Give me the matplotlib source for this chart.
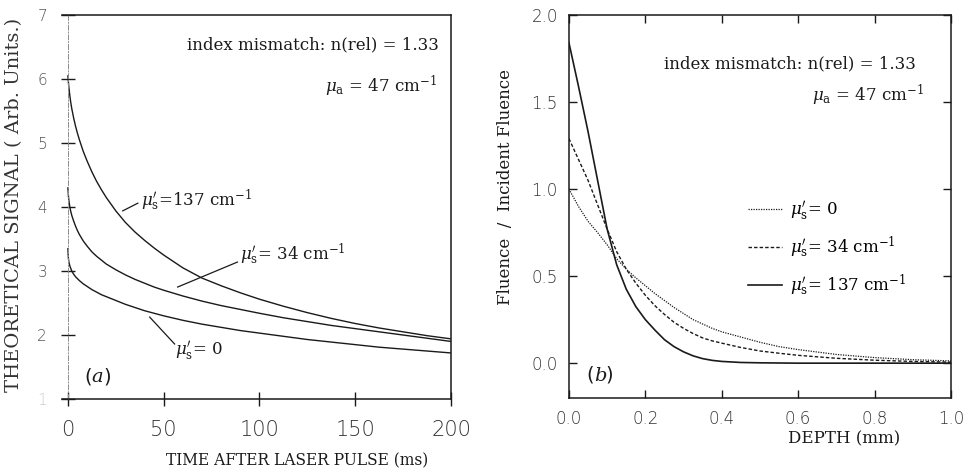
import matplotlib
matplotlib.use("Agg")
import matplotlib.pyplot as plt

plt.rcParams['mathtext.fontset'] = 'dejavuserif'

# ---------------- data: panel (a) ----------------
time_ms = [0, 0.25, 0.5, 1, 1.5, 2, 3, 4, 5, 6, 8, 10, 12.5, 15, 17.5, 20, 25, 30, 35, 40, 45, 50,
           60, 70, 80, 90, 100, 112.5, 125, 137.5, 150, 162.5, 175, 187.5, 200]
signal_137 = [6.05, 5.95, 5.87, 5.74, 5.63, 5.54, 5.39, 5.26, 5.15, 5.05, 4.87, 4.72, 4.55, 4.4, 4.27,
              4.15, 3.94, 3.76, 3.61, 3.48, 3.36, 3.25, 3.05, 2.89, 2.77, 2.66, 2.56, 2.45, 2.35, 2.26,
              2.18, 2.11, 2.05, 1.99, 1.94]
signal_34 = [4.3, 4.18, 4.1, 4.0, 3.93, 3.87, 3.78, 3.7, 3.63, 3.57, 3.47, 3.39, 3.3, 3.23, 3.17,
             3.11, 3.02, 2.94, 2.87, 2.81, 2.75, 2.7, 2.61, 2.53, 2.46, 2.4, 2.34, 2.27, 2.21, 2.15,
             2.1, 2.05, 2.0, 1.95, 1.9]
signal_0 = [3.35, 3.2, 3.14, 3.08, 3.04, 3.0, 2.95, 2.91, 2.88, 2.85, 2.8, 2.76, 2.71, 2.67, 2.63,
            2.6, 2.54, 2.48, 2.43, 2.38, 2.34, 2.3, 2.23, 2.17, 2.12, 2.07, 2.03, 1.98, 1.93, 1.89,
            1.85, 1.81, 1.78, 1.75, 1.72]
a_xticks = [0, 50, 100, 150, 200]
a_yticks = [1, 2, 3, 4, 5, 6, 7]

# ---------------- data: panel (b) ----------------
depth_mm = [0, 0.025, 0.05, 0.075, 0.1, 0.125, 0.15, 0.175, 0.2, 0.225, 0.25, 0.275, 0.3, 0.325,
            0.35, 0.375, 0.4, 0.45, 0.5, 0.55, 0.6, 0.7, 0.8, 0.9, 1.0]
fluence_137 = [1.84, 1.59, 1.33, 1.05, 0.77, 0.565, 0.425, 0.325, 0.25, 0.19, 0.135, 0.095, 0.065, 0.042,
               0.026, 0.016, 0.01, 0.004, 0.002, 0.001, 0.0, 0.0, 0.0, 0.0, 0.0]
fluence_34 = [1.29, 1.17, 1.05, 0.91, 0.77, 0.64, 0.54, 0.46, 0.39, 0.33, 0.28, 0.235, 0.2, 0.17,
              0.145, 0.128, 0.115, 0.09, 0.07, 0.057, 0.045, 0.028, 0.017, 0.01, 0.006]
fluence_0 = [1.0, 0.9, 0.815, 0.75, 0.68, 0.6, 0.54, 0.49, 0.445, 0.4, 0.36, 0.32, 0.285, 0.25,
             0.225, 0.2, 0.18, 0.15, 0.12, 0.095, 0.078, 0.05, 0.032, 0.02, 0.013]
b_xticks = [0.0, 0.2, 0.4, 0.6, 0.8, 1.0]
b_yticks = [0.0, 0.5, 1.0, 1.5, 2.0]

serif = 'DejaVu Serif'
sans = 'DejaVu Sans'
ink = '#1a1a1a'

fig = plt.figure(figsize=(9.64, 4.73), dpi=100)

# ================= panel (a) =================
axa = fig.add_axes([0.0643, 0.1564, 0.4035, 0.8118])
for y in (signal_137, signal_34, signal_0):
    axa.plot(time_ms, y, color=ink, lw=1.0)
axa.set_xlim(-3.1, 200)
axa.set_ylim(1, 7)
axa.spines['left'].set_position(('data', 0))
axa.spines['left'].set_linestyle((0, (5, 2, 1, 2)))
axa.spines['left'].set_color('0.55')
axa.spines['left'].set_linewidth(0.7)
for s in ('top', 'right', 'bottom'):
    axa.spines[s].set_linewidth(1.1)
    axa.spines[s].set_color(ink)
axa.set_xticks(a_xticks)
axa.set_xticklabels([str(v) for v in a_xticks])
axa.set_yticks(a_yticks)
axa.set_yticklabels([str(v) for v in a_yticks])
axa.tick_params(axis='y', direction='inout', length=10, width=1.0, pad=10,
                labelsize=11, colors=ink, labelcolor='#555555')
axa.tick_params(axis='x', direction='inout', length=10, width=1.0, pad=10,
                labelsize=15, colors=ink, labelcolor='#333333')
for lab in axa.get_yticklabels() + axa.get_xticklabels():
    lab.set_fontfamily(sans)
    lab.set_fontweight('light')
axa.get_yticklabels()[0].set_color('#cccccc')
axa.set_xlabel('TIME AFTER LASER PULSE (ms)', family=serif, fontsize=11.2, color=ink)
axa.xaxis.set_label_coords(0.604, -0.14)
axa.set_ylabel('THEORETICAL SIGNAL ( Arb. Units.)', family=serif, fontsize=14, color='#333333')
axa.yaxis.set_label_coords(-0.10, 0.505)

axa.text(193.5, 6.53, 'index mismatch: n(rel) = 1.33', ha='right', va='center',
         family=serif, fontsize=12, color=ink)
axa.text(192.5, 5.88, r'$\mu_{\rm a}$ = 47 cm$^{-1}$', ha='right', va='center',
         family=serif, fontsize=12, color=ink)
axa.text(38, 4.1, r"$\mu_{\rm s}'$=137 cm$^{-1}$", ha='left', va='center',
         family=serif, fontsize=12, color=ink)
axa.plot([28.6, 36.5], [3.94, 4.06], color=ink, lw=0.9)
axa.text(90, 3.27, r"$\mu_{\rm s}'$= 34 cm$^{-1}$", ha='left', va='center',
         family=serif, fontsize=12, color=ink)
axa.plot([57.3, 88.5], [2.75, 3.14], color=ink, lw=0.9)
axa.text(56, 1.75, r"$\mu_{\rm s}'$= 0", ha='left', va='center',
         family=serif, fontsize=12, color=ink)
axa.plot([42.7, 55.7], [2.28, 1.86], color=ink, lw=0.9)
axa.text(8.5, 1.35, '(', ha='left', va='center', family=sans, fontsize=14, color=ink)
axa.text(12.3, 1.35, r'$\mathit{a}$', ha='left', va='center', fontsize=14, color=ink)
axa.text(18.5, 1.35, ')', ha='left', va='center', family=sans, fontsize=14, color=ink)

# ================= panel (b) =================
axb = fig.add_axes([0.5902, 0.1586, 0.3963, 0.8097])
axb.plot(depth_mm, fluence_0, color=ink, lw=0.9, ls=(0, (1, 1)), label=r"$\mu_{\rm s}'$= 0")
axb.plot(depth_mm, fluence_34, color=ink, lw=1.0, ls=(0, (2.5, 1.5)), label=r"$\mu_{\rm s}'$= 34 cm$^{-1}$")
axb.plot(depth_mm, fluence_137, color=ink, lw=1.2, ls='-', label=r"$\mu_{\rm s}'$= 137 cm$^{-1}$")
axb.set_xlim(0, 1.0)
axb.set_ylim(-0.2, 2.0)
for s in axb.spines.values():
    s.set_linewidth(1.1)
    s.set_color(ink)
axb.set_xticks(b_xticks)
axb.set_xticklabels([f'{v:.1f}' for v in b_xticks])
axb.set_yticks(b_yticks)
axb.set_yticklabels([f'{v:.1f}' for v in b_yticks])
axb.tick_params(direction='in', length=6, width=1.0, top=True, right=True,
                labelsize=12, colors=ink, labelcolor='#333333')
axb.tick_params(axis='x', pad=9)
axb.tick_params(axis='y', pad=8)
for lab in axb.get_xticklabels() + axb.get_yticklabels():
    lab.set_fontfamily(sans)
    lab.set_fontweight('light')
axb.set_xlabel('DEPTH (mm)', family=serif, fontsize=12, color=ink)
axb.xaxis.set_label_coords(0.72, -0.085)
axb.set_ylabel('Fluence  /  Incident Fluence', family=serif, fontsize=12, color=ink)
axb.yaxis.set_label_coords(-0.145, 0.55)

axb.text(0.908, 1.72, 'index mismatch: n(rel) = 1.33', ha='right', va='center',
         family=serif, fontsize=12, color=ink)
axb.text(0.93, 1.54, r'$\mu_{\rm a}$ = 47 cm$^{-1}$', ha='right', va='center',
         family=serif, fontsize=12, color=ink)
axb.legend(loc='center left', bbox_to_anchor=(0.43, 0.39), frameon=False,
           handlelength=2.0, handletextpad=0.5, labelspacing=0.75,
           prop={'family': serif, 'size': 12})
axb.text(0.045, -0.07, '(', ha='left', va='center', family=sans, fontsize=14, color=ink)
axb.text(0.065, -0.07, r'$\mathit{b}$', ha='left', va='center', fontsize=14, color=ink)
axb.text(0.095, -0.07, ')', ha='left', va='center', family=sans, fontsize=14, color=ink)

fig.savefig('out.png', dpi=100)
